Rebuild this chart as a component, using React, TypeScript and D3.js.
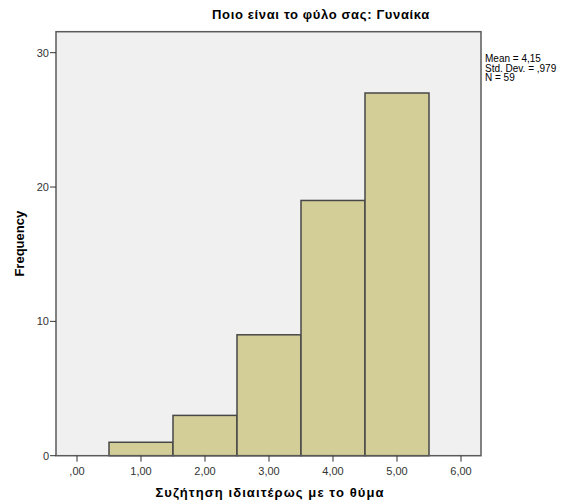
import React from "react";
import * as d3 from "d3";

const binCenters = [1, 2, 3, 4, 5];
const frequencies = [1, 3, 9, 19, 27];
const xTicks = [0, 1, 2, 3, 4, 5, 6];
const xTickLabels = [",00", "1,00", "2,00", "3,00", "4,00", "5,00", "6,00"];
const yTicks = [0, 10, 20, 30];
const statsLines = ["Mean = 4,15", "Std. Dev. = ,979", "N = 59"];
const title = "Ποιο είναι το φύλο σας: Γυναίκα";
const xLabel = "Συζήτηση ιδιαιτέρως με το θύμα";
const yLabel = "Frequency";

export default function App() {
  const W = 568, H = 504;
  const left = 56, right = 481, top = 31.7, bottom = 455.7;
  const x = d3.scaleLinear().domain([0, 6]).range([77, 461]);
  const y = d3.scaleLinear().domain([0, 30]).range([bottom, 52.7]);
  const font = "'Liberation Sans', Arial, sans-serif";
  return (
    <svg width={W} height={H} style={{ position: "absolute", left: 0, top: 0 }} fontFamily={font}>
      <rect x={0} y={0} width={W} height={H} fill="#fff" />
      <text x={321} y={19} textAnchor="middle" fontSize={13} fontWeight="bold" letterSpacing={0.65} fill="#000">{title}</text>
      <rect x={left} y={top} width={right - left} height={bottom - top} fill="#f0f0f0" />
      {binCenters.map((c, i) => (
        <rect key={i} x={x(c - 0.5)} y={y(frequencies[i])} width={x(c + 0.5) - x(c - 0.5)} height={bottom - y(frequencies[i])}
          fill="#d3ce98" stroke="#474747" strokeWidth={1.5} />
      ))}
      <rect x={left} y={top} width={right - left} height={bottom - top} fill="none" stroke="#5a5a5a" strokeWidth={1.5} />
      {yTicks.map(t => (
        <g key={t}>
          <line x1={50} x2={left} y1={y(t)} y2={y(t)} stroke="#333" strokeWidth={1} />
          <text x={49} y={y(t) + 4} textAnchor="end" fontSize={11} fill="#333">{t}</text>
        </g>
      ))}
      {xTicks.map((t, i) => (
        <g key={t}>
          <line x1={x(t)} x2={x(t)} y1={bottom} y2={bottom + 6} stroke="#333" strokeWidth={1} />
          <text x={x(t)} y={bottom + 19} textAnchor="middle" fontSize={11} fill="#333">{xTickLabels[i]}</text>
        </g>
      ))}
      <text x={270} y={497} textAnchor="middle" fontSize={13} fontWeight="bold" letterSpacing={1.1} fill="#000">{xLabel}</text>
      <text transform={`translate(24,${(top + bottom) / 2}) rotate(-90)`} textAnchor="middle" fontSize={13} fontWeight="bold" fill="#000">{yLabel}</text>
      {statsLines.map((s, i) => (
        <text key={i} x={485} y={62 + i * 9.5} fontSize={10} fill="#000">{s}</text>
      ))}
    </svg>
  );
}
